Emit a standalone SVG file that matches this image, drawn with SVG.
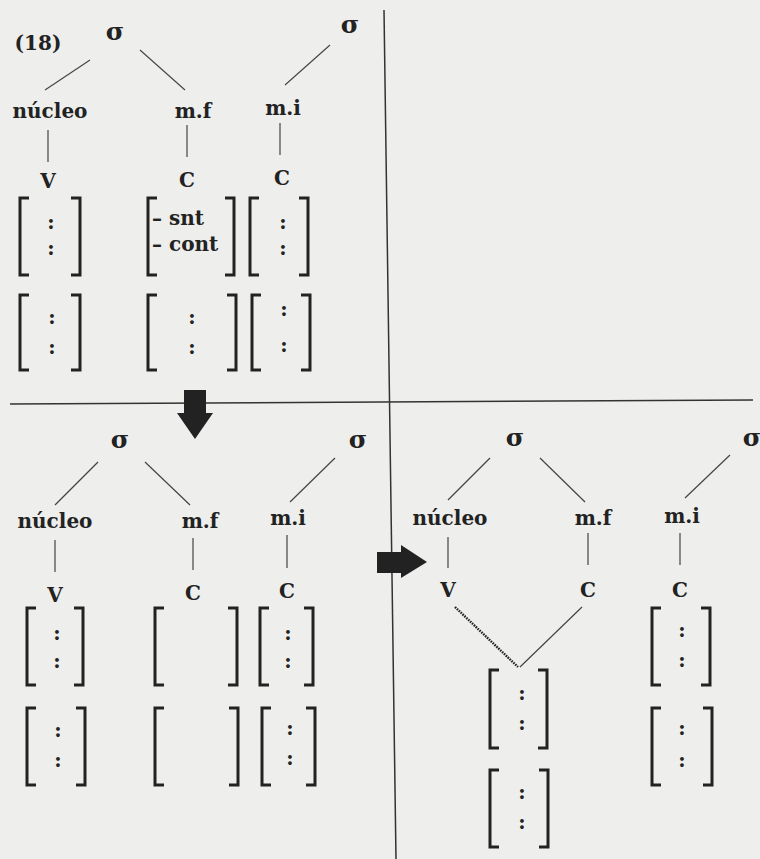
<svg xmlns="http://www.w3.org/2000/svg" width="760" height="859" viewBox="0 0 760 859">
<style>
text{font-family:"DejaVu Serif","Liberation Serif",serif;font-weight:bold;fill:#222;text-anchor:middle}
.t{font-size:20px}
.s{font-size:25px}
.cl{font-size:20px}
.br{fill:none;stroke:#222;stroke-width:3}
.ln{stroke:#444;stroke-width:1.2;fill:none}
.dl{stroke:#222;stroke-width:2.4;stroke-dasharray:1.6 1;fill:none}
.sep{stroke:#333;stroke-width:1.5;fill:none}
.arr{fill:#222}
</style>
<rect width="760" height="859" fill="#eeeeec"/>
<g id="separators">
<line class="sep" x1="384" y1="10" x2="396" y2="859"/>
<line class="sep" x1="10" y1="404" x2="753" y2="400"/>
</g>
<g id="arrows">
<path class="arr" d="M184,390 H206 V413 H213 L195,439 L177,413 H184 Z"/>
<path class="arr" d="M377,552 H401 V545 L427,562 L401,578 V573 H377 Z"/>
</g>
<g id="connectors">
<line class="ln" x1="90" y1="60" x2="45" y2="90"/>
<line class="ln" x1="140" y1="50" x2="185" y2="90"/>
<line class="ln" x1="330" y1="45" x2="285" y2="85"/>
<line class="ln" x1="48" y1="130" x2="48" y2="162"/>
<line class="ln" x1="187" y1="125" x2="187" y2="157"/>
<line class="ln" x1="280" y1="123" x2="280" y2="155"/>
<line class="ln" x1="98" y1="462" x2="55" y2="505"/>
<line class="ln" x1="145" y1="462" x2="190" y2="505"/>
<line class="ln" x1="335" y1="458" x2="290" y2="502"/>
<line class="ln" x1="55" y1="540" x2="55" y2="572"/>
<line class="ln" x1="193" y1="538" x2="193" y2="570"/>
<line class="ln" x1="287" y1="535" x2="287" y2="568"/>
<line class="ln" x1="490" y1="458" x2="448" y2="500"/>
<line class="ln" x1="540" y1="458" x2="585" y2="502"/>
<line class="ln" x1="730" y1="455" x2="685" y2="498"/>
<line class="ln" x1="448" y1="537" x2="448" y2="568"/>
<line class="ln" x1="588" y1="533" x2="588" y2="565"/>
<line class="ln" x1="680" y1="533" x2="680" y2="565"/>
<line class="dl" x1="455" y1="607" x2="518" y2="667"/>
<line class="ln" x1="520" y1="667" x2="582" y2="607"/>
</g>
<text class="t" x="38" y="50">(18)</text>
<g id="tl-sigma1"><text class="s" x="115" y="40">σ</text></g>
<g id="tl-sigma2"><text class="s" x="350" y="33">σ</text></g>
<g id="tl-nucleo"><text class="t" x="50" y="118">núcleo</text></g>
<g id="tl-mf"><text class="t" x="193" y="118">m.f</text></g>
<g id="tl-mi"><text class="t" x="283" y="115">m.i</text></g>
<g id="tl-V"><text class="t" x="48" y="188">V</text></g>
<g id="tl-C1"><text class="t" x="187" y="187">C</text></g>
<g id="tl-C2"><text class="t" x="282" y="185">C</text></g>
<g id="tl-V-f1"><path class="br" d="M29,198 H20 V275 H29 M71,198 H80 V275 H71"/><text class="cl" x="51" y="229">:</text><text class="cl" x="51" y="255">:</text></g>
<g id="tl-C1-f1"><path class="br" d="M157,198 H148 V275 H157 M225,198 H234 V275 H225"/><text class="t" x="152" y="225" style="text-anchor:start">– snt</text><text class="t" x="152" y="251" style="text-anchor:start">– cont</text></g>
<g id="tl-C2-f1"><path class="br" d="M259,198 H250 V275 H259 M299,198 H308 V275 H299"/><text class="cl" x="283" y="229">:</text><text class="cl" x="283" y="255">:</text></g>
<g id="tl-V-f2"><path class="br" d="M29,295 H20 V370 H29 M71,295 H80 V370 H71"/><text class="cl" x="52" y="324">:</text><text class="cl" x="52" y="354">:</text></g>
<g id="tl-C1-f2"><path class="br" d="M157,295 H148 V370 H157 M227,295 H236 V370 H227"/><text class="cl" x="192" y="324">:</text><text class="cl" x="192" y="354">:</text></g>
<g id="tl-C2-f2"><path class="br" d="M261,295 H252 V370 H261 M301,295 H310 V370 H301"/><text class="cl" x="284" y="316">:</text><text class="cl" x="284" y="352">:</text></g>
<g id="bl-sigma1"><text class="s" x="120" y="448">σ</text></g>
<g id="bl-sigma2"><text class="s" x="358" y="448">σ</text></g>
<g id="bl-nucleo"><text class="t" x="55" y="528">núcleo</text></g>
<g id="bl-mf"><text class="t" x="200" y="528">m.f</text></g>
<g id="bl-mi"><text class="t" x="288" y="525">m.i</text></g>
<g id="bl-V"><text class="t" x="55" y="602">V</text></g>
<g id="bl-C1"><text class="t" x="193" y="600">C</text></g>
<g id="bl-C2"><text class="t" x="287" y="598">C</text></g>
<g id="bl-V-f1"><path class="br" d="M36,608 H27 V685 H36 M74,608 H83 V685 H74"/><text class="cl" x="57" y="640">:</text><text class="cl" x="57" y="668">:</text></g>
<g id="bl-C1-f1"><path class="br" d="M164,608 H155 V685 H164 M228,608 H237 V685 H228"/></g>
<g id="bl-C2-f1"><path class="br" d="M269,608 H260 V685 H269 M304,608 H313 V685 H304"/><text class="cl" x="288" y="640">:</text><text class="cl" x="288" y="668">:</text></g>
<g id="bl-V-f2"><path class="br" d="M36,708 H27 V785 H36 M76,708 H85 V785 H76"/><text class="cl" x="58" y="737">:</text><text class="cl" x="58" y="767">:</text></g>
<g id="bl-C1-f2"><path class="br" d="M164,708 H155 V785 H164 M229,708 H238 V785 H229"/></g>
<g id="bl-C2-f2"><path class="br" d="M271,708 H262 V785 H271 M306,708 H315 V785 H306"/><text class="cl" x="290" y="735">:</text><text class="cl" x="290" y="765">:</text></g>
<g id="br-sigma1"><text class="s" x="515" y="446">σ</text></g>
<g id="br-sigma2"><text class="s" x="752" y="446">σ</text></g>
<g id="br-nucleo"><text class="t" x="450" y="525">núcleo</text></g>
<g id="br-mf"><text class="t" x="593" y="525">m.f</text></g>
<g id="br-mi"><text class="t" x="682" y="523">m.i</text></g>
<g id="br-V"><text class="t" x="448" y="597">V</text></g>
<g id="br-C1"><text class="t" x="588" y="597">C</text></g>
<g id="br-C2"><text class="t" x="680" y="597">C</text></g>
<g id="br-VC-f1"><path class="br" d="M499,670 H490 V748 H499 M538,670 H547 V748 H538"/><text class="cl" x="522" y="700">:</text><text class="cl" x="522" y="730">:</text></g>
<g id="br-VC-f2"><path class="br" d="M499,770 H490 V847 H499 M539,770 H548 V847 H539"/><text class="cl" x="522" y="799">:</text><text class="cl" x="522" y="829">:</text></g>
<g id="br-C2-f1"><path class="br" d="M661,608 H652 V685 H661 M701,608 H710 V685 H701"/><text class="cl" x="682" y="637">:</text><text class="cl" x="682" y="667">:</text></g>
<g id="br-C2-f2"><path class="br" d="M661,708 H652 V785 H661 M703,708 H712 V785 H703"/><text class="cl" x="682" y="735">:</text><text class="cl" x="682" y="767">:</text></g>
</svg>
